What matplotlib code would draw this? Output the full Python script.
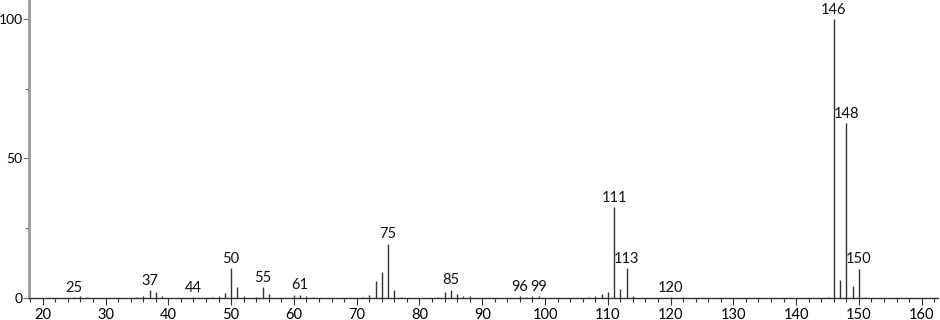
import matplotlib
matplotlib.use('Agg')
import matplotlib.pyplot as plt
from matplotlib.ticker import MultipleLocator

plt.rcParams['font.family'] = ['Lato', 'DejaVu Sans']

# Peak positions (m/z) and relative intensities.
mz = [25, 26, 27, 35, 36, 37, 38, 39, 44, 47, 48, 49, 50, 51, 52,
      54, 55, 56, 60, 61, 62, 63, 71, 72, 73, 74, 75, 76, 77,
      83, 84, 85, 86, 87, 88, 96, 97, 98, 99,
      107, 108, 109, 110, 111, 112, 113, 114, 120, 122,
      145, 146, 147, 148, 149, 150, 151]
intensity = [0.4, 0.6, 0.5, 0.4, 0.8, 2.9, 2.2, 0.6, 0.3, 0.5, 0.8, 1.9, 10.7, 3.8, 0.7,
             0.5, 3.8, 1.4, 1.0, 1.2, 0.6, 0.4, 0.5, 1.0, 6.0, 9.3, 19.5, 2.7, 0.5,
             0.4, 2.2, 3.0, 1.4, 0.8, 0.6, 0.8, 0.3, 0.8, 0.6,
             0.5, 0.6, 1.4, 2.1, 32.7, 3.1, 10.7, 0.8, 0.4, 0.4,
             0.5, 100.0, 6.5, 62.8, 4.3, 10.5, 0.4]
# Peaks that carry a text label.
labeled = [25, 37, 44, 50, 55, 61, 75, 85, 96, 99, 111, 113, 120, 146, 148, 150]

fig = plt.figure(figsize=(9.4, 3.2), dpi=100)
ax = fig.add_axes([29 / 940, 22 / 320, 909 / 940, 298 / 320])

ax.vlines(mz, 0, intensity, color='#333333', linewidth=1.0)

# Labels sit just above their peak.
heights = dict(zip(mz, intensity))
for m in labeled:
    ax.text(m, heights[m] + 0.8, str(m), ha='center', va='bottom',
            fontsize=10.5, color='#111111')

ax.set_xlim(17.8, 162.6)
ax.set_ylim(0, 106.8)
ax.set_xticks(range(20, 161, 10))
ax.xaxis.set_minor_locator(MultipleLocator(2))
ax.set_yticks([0, 50, 100])
ax.yaxis.set_minor_locator(MultipleLocator(25))

for side in ('top', 'right'):
    ax.spines[side].set_visible(False)
ax.spines['left'].set_color('#999999')
ax.spines['left'].set_linewidth(2)
ax.spines['bottom'].set_color('#333333')
ax.spines['bottom'].set_linewidth(1)

ax.tick_params(axis='x', which='major', length=5, width=0.8, color='#333333',
               labelsize=10.5, pad=2)
ax.tick_params(axis='x', which='minor', length=3, width=0.8, color='#333333')
ax.tick_params(axis='y', which='major', length=4, width=0.8, color='#666666',
               labelsize=10, pad=0.5)
ax.tick_params(axis='y', which='minor', length=3, width=0.8, color='#666666')

fig.savefig('out.png', dpi=100, facecolor='white')
